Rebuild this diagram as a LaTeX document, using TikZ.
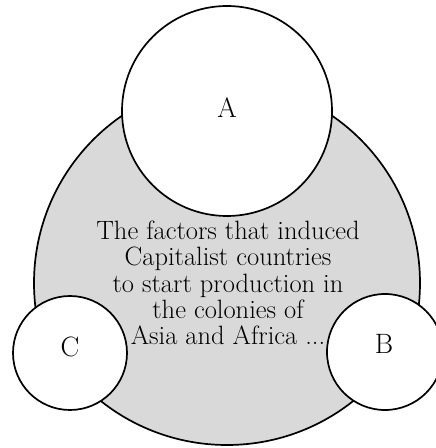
\documentclass[tikz,border=0pt]{standalone}
\begin{document}
\begin{tikzpicture}[x=1pt,y=1pt,
  outline/.style={draw=black, line width=1.7pt},
  bubble/.style={circle, draw=black, fill=white, line width=1.7pt, inner sep=0pt},
  lbl/.style={font=\fontsize{28}{30}\selectfont, inner sep=0pt},
  body/.style={align=center, font=\fontsize{26.5}{26.4}\selectfont, inner sep=0pt}]
\useasboundingbox (0,0) rectangle (436,448);
\fill[white] (0,0) rectangle (436,448);
\coordinate (d1) at (237,165);
\coordinate (d2) at (217,165);
\coordinate (d3) at (227,206);
% gray rounded-triangle shape = intersection of three disks
\begin{scope}
  \clip (d1) circle[radius=203];
  \clip (d2) circle[radius=203];
  \fill[black!15] (d3) circle[radius=203];
\end{scope}
\begin{scope}
  \clip (d2) circle[radius=203];
  \clip (d3) circle[radius=203];
  \draw[outline] (d1) circle[radius=203];
\end{scope}
\begin{scope}
  \clip (d1) circle[radius=203];
  \clip (d3) circle[radius=203];
  \draw[outline] (d2) circle[radius=203];
\end{scope}
\begin{scope}
  \clip (d1) circle[radius=203];
  \clip (d2) circle[radius=203];
  \draw[outline] (d3) circle[radius=203];
\end{scope}
% central text
\node[body] (txt) at (228,165) {The factors that induced\\Capitalist countries\\to start production in\\the colonies of\\Asia and Africa ...};
% white circles
\node[bubble, minimum size=210pt] (A) at (227,337) {};
\node[bubble, minimum size=114pt] (C) at (70,95) {};
\node[bubble, minimum size=116pt] (B) at (385,96) {};
\node[lbl] (lA) at ([yshift=3pt]A.center) {A};
\node[lbl] (lB) at ([xshift=-1pt,yshift=8pt]B.center) {B};
\node[lbl] (lC) at ([yshift=6pt]C.center) {C};
\end{tikzpicture}
\end{document}
